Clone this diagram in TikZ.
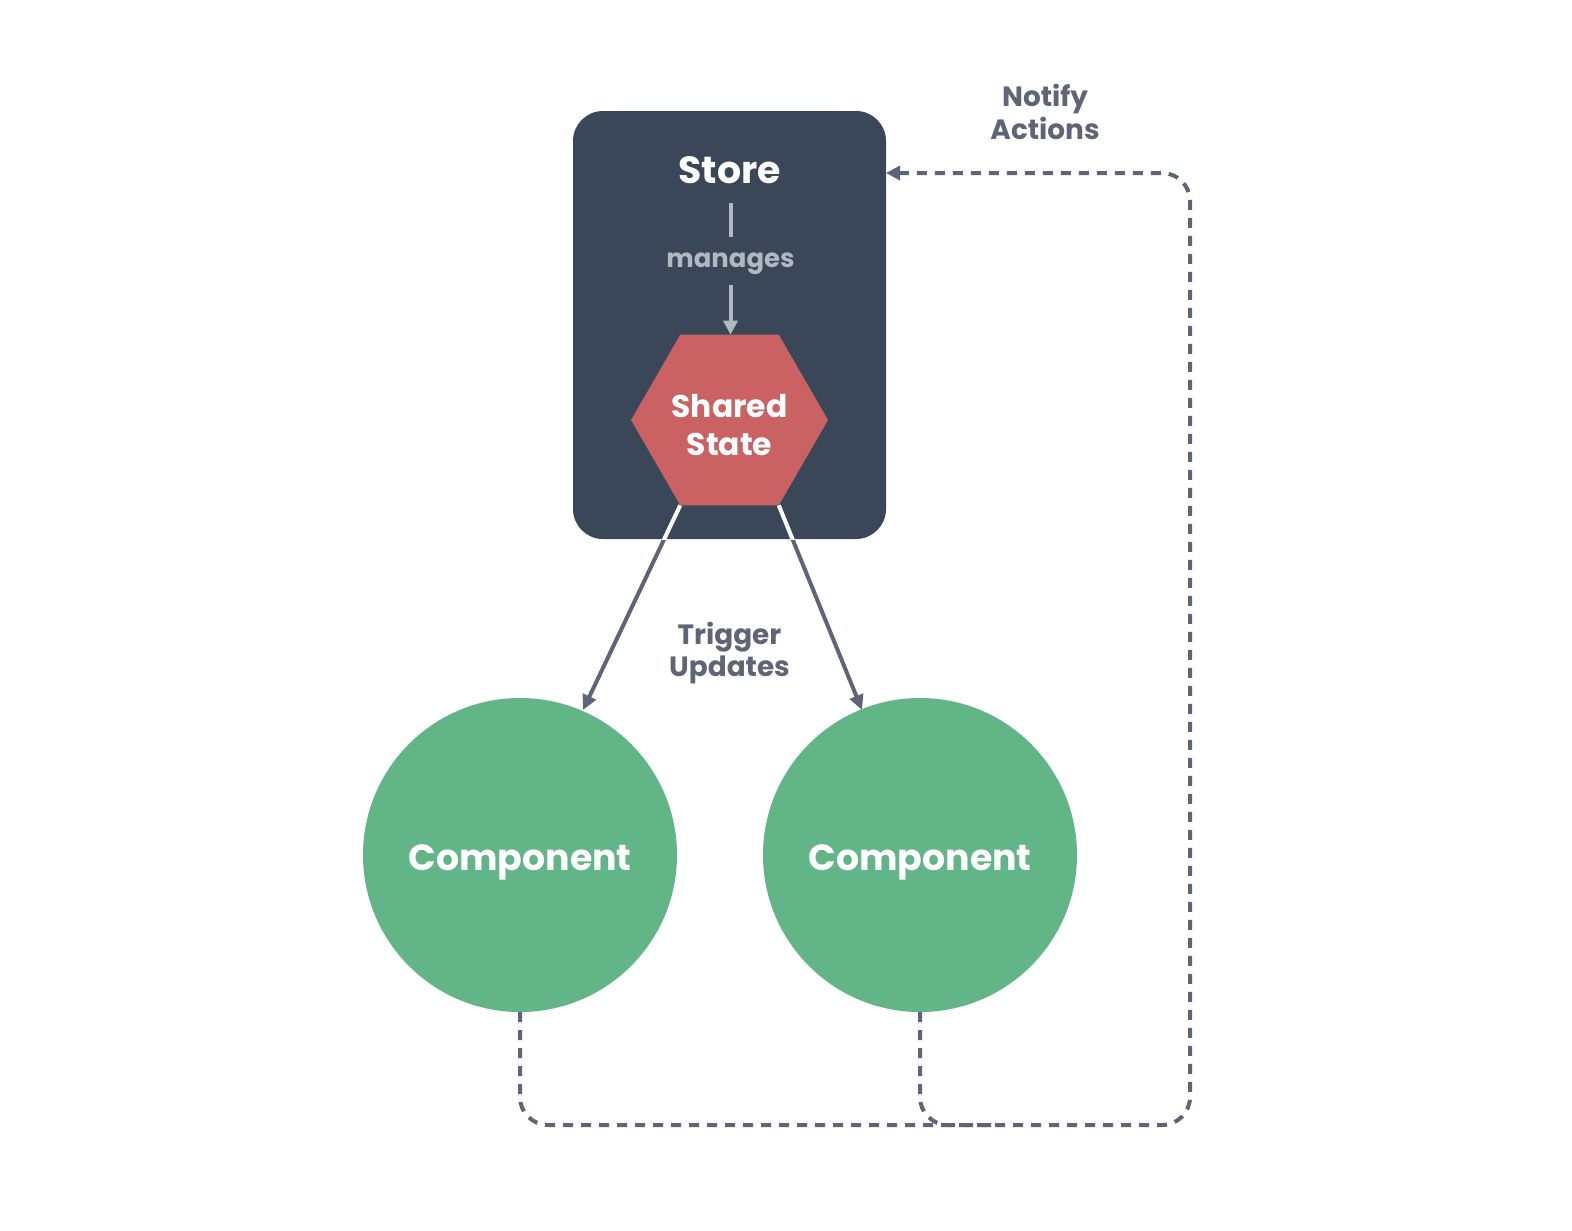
\documentclass[tikz,border=0pt]{standalone}
\usepackage{fontspec}
\setmainfont{Poppins}
\usetikzlibrary{shapes.geometric,arrows.meta}
\definecolor{storecol}{HTML}{394759}
\definecolor{hexcol}{HTML}{CA6264}
\definecolor{compcol}{HTML}{62B587}
\definecolor{linecol}{HTML}{5E6577}
\definecolor{mancol}{HTML}{B2B8C0}
\tikzset{
  storebox/.style={draw=none,fill=storecol,rounded corners=30bp,minimum width=313bp,minimum height=428bp,inner sep=0pt,outer sep=0pt},
  hexbox/.style={regular polygon,regular polygon sides=6,fill=hexcol,minimum size=197bp,inner sep=0pt,outer sep=0pt},
  hextext/.style={text=white,font=\bfseries\fontsize{31.5}{39}\selectfont,align=center,inner sep=0pt},
  compbox/.style={circle,fill=compcol,minimum size=314bp,inner sep=0pt,outer sep=0pt},
  comptext/.style={text=white,font=\bfseries\fontsize{36.5}{40}\selectfont,inner sep=0pt},
  lbl/.style={text=linecol,font=\bfseries\fontsize{28}{33}\selectfont,align=center,inner sep=0pt},
  trig/.style={draw=linecol,line width=4bp,-{Triangle[length=15bp,width=14bp]}},
  notif/.style={draw=linecol,line width=4bp,dash pattern=on 10bp off 8bp,rounded corners=28bp},
  mline/.style={draw=mancol,line width=4bp}
}
\begin{document}
\begin{tikzpicture}[x=1bp,y=-1bp]
\path[use as bounding box,fill=white] (0,0) rectangle (1572,1230);
\node[storebox] (store) at (729.5,325) {};
\node[text=white,font=\bfseries\fontsize{38}{40}\selectfont,inner sep=0pt] (storet) at (729.5,170) {Store};
\node[hexbox] (hex) at (729.5,420) {};
\node[hextext] (hext) at (729.5,425) {Shared\\State};
\node[text=mancol,font=\bfseries\fontsize{26}{30}\selectfont,inner sep=0pt] (man) at (730.5,264) {manages};
\coordinate (m1) at (730.5,203);
\coordinate (m2) at (730.5,237);
\coordinate (m3) at (730.5,285);
\draw[mline] (m1) -- (m2);
\draw[mline,-{Triangle[length=14bp,width=14bp]}] (m3) -- (m3 |- hex.north);
\node[compbox] (c1) at (520,855) {};
\node[compbox] (c2) at (920,855) {};
\node[comptext] (c1t) at (520,862) {Component};
\node[comptext] (c2t) at (920,862) {Component};
\coordinate (t1) at (583,710);
\coordinate (t2) at (862,710);
\draw[trig] (hex.corner 4) -- (t1);
\draw[trig] (hex.corner 5) -- (t2);
\begin{scope}
\clip (store.south west) rectangle (store.north east);
\draw[draw=white,line width=4bp] (hex.corner 4) -- (t1);
\draw[draw=white,line width=4bp] (hex.corner 5) -- (t2);
\end{scope}
\node[lbl] (trigl) at (729.5,653) {Trigger\\Updates};
\node[lbl] (notl) at (1045,112) {Notify\\Actions};
\coordinate (b1) at (520,1125);
\coordinate (b2) at (920,1125);
\coordinate (br) at (1190,1125);
\coordinate (tr) at (1190,173);
\draw[notif,-{Triangle[length=14bp,width=14bp]}] (c1.south) -- (b1) -- (br) -- (tr) -- (store.east |- tr);
\draw[notif] (c2.south) -- (b2) -- (1000,1125);
\end{tikzpicture}
\end{document}
